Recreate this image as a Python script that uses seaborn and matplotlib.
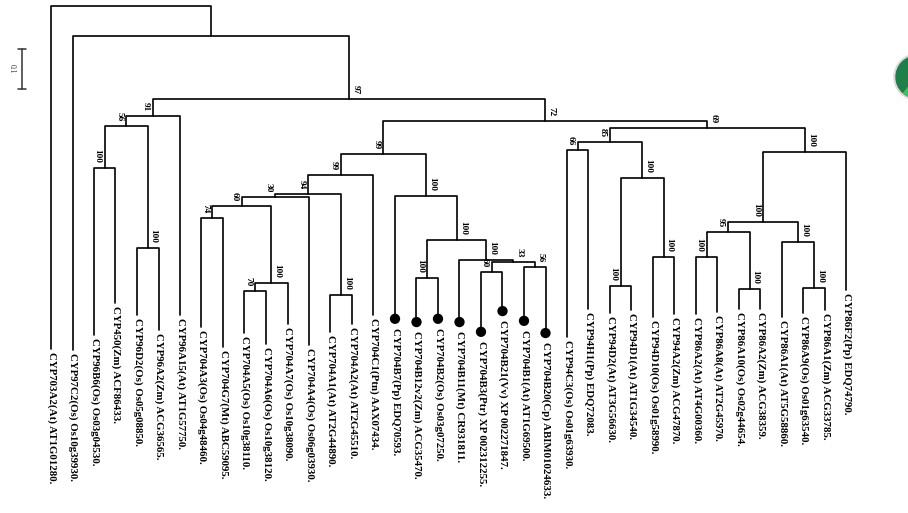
import numpy as np
import pandas as pd
import matplotlib
matplotlib.use("Agg")
import matplotlib.pyplot as plt
from matplotlib.patches import Circle, Wedge
from matplotlib.transforms import IdentityTransform
import seaborn as sns

# ---------------- data ----------------
leaf_names = [
    "CYP703A2(At) AT1G01280.", "CYP97C2(Os) Os10g39930.", "CYP96B6(Os) Os03g04530.",
    "CYP450(Zm) ACF86433.", "CYP96D2(Os) Os05g08850.", "CYP96A2(Zm) ACG36565.",
    "CYP96A15(At) AT1G57750.", "CYP704A3(Os) Os04g48460.", "CYP704G7(Mt) ABC59095.",
    "CYP704A5(Os) Os10g38110.", "CYP704A6(Os) Os10g38120.", "CYP704A7(Os) Os10g38090.",
    "CYP704A4(Os) Os06g03930.", "CYP704A1(At) AT2G44890.", "CYP704A2(At) AT2G45510.",
    "CYP704C1(Ptn) AAX07434.", "CYP704B7(Pp) EDQ70593.", "CYP704B12v2(Zm) ACG35470.",
    "CYP704B2(Os) Os03g07250.", "CYP704B11(Mt) CR931811.", "CYP704B3(Ptr) XP 002312255.",
    "CYP704B21(Vv) XP 002271847.", "CYP704B1(At) AT1G69500.", "CYP704B20(Cp) ABIM01024633.",
    "CYP94C3(Os) Os01g63930.", "CYP94H1(Pp) EDQ72083.", "CYP94D2(At) AT3G56630.",
    "CYP94D1(At) AT1G34540.", "CYP94D10(Os) Os01g58990.", "CYP94A2(Zm) ACG47870.",
    "CYP86A2(At) AT4G00360.", "CYP86A8(At) AT2G45970.", "CYP86A10(Os) Os02g44654.",
    "CYP86A2(Zm) ACG38359.", "CYP86A1(At) AT5G58860.", "CYP86A9(Os) Os01g63540.",
    "CYP86A1(Zm) ACG33785.", "CYP86F2(Pp) EDQ74790.",
]
# distance from root to each leaf tip
leaf_depth = [
    0.843, 0.846, 0.809, 0.731, 0.760, 0.797, 0.760, 0.789, 0.839, 0.804,
    0.831, 0.782, 0.834, 0.802, 0.782, 0.760, 0.757, 0.765, 0.757, 0.765,
    0.789, 0.738, 0.762, 0.792, 0.814, 0.745, 0.755, 0.748, 0.765, 0.757,
    0.757, 0.753, 0.745, 0.745, 0.765, 0.755, 0.748, 0.698,
]
leaf_marked = [False] * 16 + [True] * 8 + [False] * 14

# internal nodes (ids 38..), children refer to leaf/node ids
node_left = [2, 4, 38, 40, 7, 9, 43, 42, 45, 13, 46, 48, 17, 20, 22, 51, 19, 50, 16, 49,
             24, 26, 28, 59, 58, 30, 32, 63, 35, 34, 65, 68, 62, 57, 41, 1, 0]
node_right = [3, 5, 39, 6, 8, 10, 11, 44, 12, 14, 47, 15, 18, 21, 23, 52, 53, 54, 55, 56,
              25, 27, 29, 60, 61, 31, 33, 64, 36, 66, 67, 37, 69, 70, 71, 72, 73]
node_depth = [0.399, 0.595, 0.296, 0.271, 0.522, 0.701, 0.681, 0.492, 0.470, 0.711,
              0.463, 0.416, 0.669, 0.654, 0.642, 0.630, 0.625, 0.576, 0.468, 0.364,
              0.355, 0.689, 0.617, 0.423, 0.335, 0.617, 0.696, 0.556, 0.694, 0.581,
              0.531, 0.359, 0.300, 0.283, 0.229, 0.074, 0.000]
node_support = [100, 100, 56, 91, 74, 70, 100, 60, 30, 100, 94, 99, 100, 60, 56, 33, 100,
                100, 100, 99, 66, 100, 100, 100, 85, 100, 100, 95, 100, 100, 100, 100,
                69, 72, 97, None, None]
# side of the vertical branch on which each support value is written (style)
support_side = ["L", "R", "L", "L", "L", "L", "R", "L", "L", "R", "L", "L", "L", "L", "R",
                "R", "R", "R", "R", "L", "L", "L", "R", "R", "L", "L", "R", "L", "R", "R",
                "L", "R", "R", "R", "R", None, None]
scale_value = 0.1

# ---------------- layout ----------------
W, H = 908, 513
PXX = 21.5      # pixels per leaf slot
PXY = 407.0     # pixels per unit of distance
X0, Y0 = 51.0, 5.7

n_leaf = len(leaf_names)
xpos = {i: float(i) for i in range(n_leaf)}
dpos = {i: leaf_depth[i] for i in range(n_leaf)}
for k in range(len(node_left)):
    nid = n_leaf + k
    xpos[nid] = (xpos[node_left[k]] + xpos[node_right[k]]) / 2
    dpos[nid] = node_depth[k]

rows = []
for k in range(len(node_left)):
    nid = n_leaf + k
    l, r = node_left[k], node_right[k]
    pts = [(xpos[l], dpos[l]), (xpos[l], dpos[nid]), (xpos[r], dpos[nid]), (xpos[r], dpos[r])]
    for j, (x, y) in enumerate(pts):
        rows.append({"seg": k, "order": j, "x": x, "y": y})
seg = pd.DataFrame(rows)

sns.set_theme(style="white")
plt.rcParams["font.family"] = ["Liberation Serif", "DejaVu Serif"]

fig = plt.figure(figsize=(W / 100, H / 100), dpi=100)
ax = fig.add_axes([0, 0, 1, 1])
ax.set_xlim(-X0 / PXX, (W - X0) / PXX)
ax.set_ylim((H - Y0) / PXY, -Y0 / PXY)
ax.axis("off")

sns.lineplot(data=seg, x="x", y="y", units="seg", estimator=None, sort=False,
             color="black", lw=1.2, ax=ax, legend=False)

# marked leaves (filled dots)
mk = pd.DataFrame({"x": [xpos[i] for i in range(n_leaf) if leaf_marked[i]],
                   "y": [leaf_depth[i] + 5 / PXY for i in range(n_leaf) if leaf_marked[i]]})
sns.scatterplot(data=mk, x="x", y="y", s=55, color="black", edgecolor="none", ax=ax,
                legend=False, zorder=3)

# leaf labels
for i, name in enumerate(leaf_names):
    start = leaf_depth[i] + (14 if leaf_marked[i] else 3) / PXY
    ax.text(xpos[i] + 0.5 / PXX, start, name, rotation=-90, ha="center", va="top",
            fontsize=7.8, fontweight="bold", color="black")

# support values
for k, sup in enumerate(node_support):
    if sup is None:
        continue
    nid = n_leaf + k
    if support_side[k] == "R":
        xx, ha = xpos[nid] + 2 / PXX, "left"
    else:
        xx, ha = xpos[nid] - 3 / PXX, "right"
    ax.text(xx, dpos[nid] - 5 / PXY, str(sup), rotation=-90, ha=ha, va="bottom",
            fontsize=6.7, fontweight="bold", color="black")

# scale bar
sx = (22 - X0) / PXX
sy0 = (48.5 - Y0) / PXY
sy1 = sy0 + scale_value
cap = 4 / PXX
ax.plot([sx, sx], [sy0, sy1], color="#333333", lw=1.1)
ax.plot([sx - cap, sx + cap], [sy0, sy0], color="#333333", lw=1.1)
ax.plot([sx - cap, sx + cap], [sy1, sy1], color="#333333", lw=1.1)
ax.text(sx - 6 / PXX, (sy0 + sy1) / 2, str(scale_value), rotation=-90, ha="right",
        va="center", fontsize=5.5, color="#333333")

# green badge at the top-right edge
cx, cy, rad = 917, H - 77, 21
ax.add_artist(Circle((cx, cy), rad + 2, transform=IdentityTransform(), color="#d9d9d9",
                     clip_on=False, zorder=4))
ax.add_artist(Circle((cx, cy), rad, transform=IdentityTransform(), color="#1f7f4a",
                     clip_on=False, zorder=5))
ax.add_artist(Wedge((cx, cy), rad, 230, 360, transform=IdentityTransform(),
                    color="#3fbf62", clip_on=False, zorder=6))

fig.savefig("out.png", dpi=100)
